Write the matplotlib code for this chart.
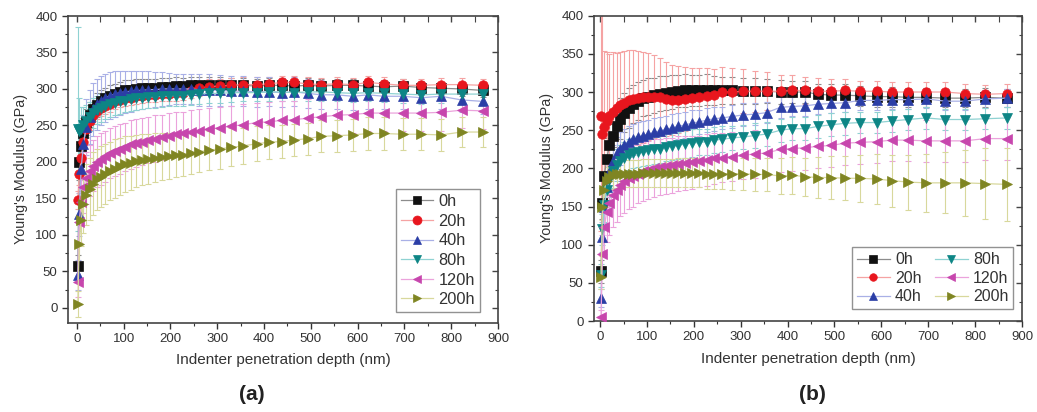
import matplotlib
matplotlib.use("Agg")
import matplotlib.pyplot as plt
from matplotlib.ticker import MultipleLocator

plt.rcParams['font.family'] = ['Liberation Sans', 'DejaVu Sans']

# ---------------- data ----------------
depth_nm = [2, 5, 9, 14, 20, 27, 35, 43, 52, 61, 71, 81, 92, 103, 115, 127, 140, 153,
            167, 181, 196, 211, 227, 243, 260, 282, 305, 330, 355, 385, 410, 438, 465,
            493, 522, 555, 590, 622, 656, 696, 736, 778, 822, 867]

series_labels = ["0h", "20h", "40h", "80h", "120h", "200h"]

# Panel (a)
a_0h = [57, 200, 222, 240, 255, 265, 272, 278, 283, 287, 290, 293, 296, 298, 299, 300, 301, 302,
        302, 303, 303, 304, 304, 305, 305, 305, 306, 305, 305, 304, 305, 305, 304,
        305, 304, 305, 305, 304, 303, 304, 302, 301, 300, 298]
a_0h_err = [15, 25, 22, 20, 18, 17, 16, 16, 15, 15, 15, 14, 14, 14, 13, 13, 13, 12,
            12, 12, 12, 12, 11, 11, 11, 11, 10, 10, 10, 10, 10, 10, 10,
            10, 10, 9, 9, 9, 9, 9, 9, 9, 9, 9]
a_20h = [148, 183, 205, 228, 245, 256, 264, 270, 274, 277, 280, 283, 285, 287, 288, 290, 291, 292,
         292, 293, 293, 294, 295, 297, 301, 303, 304, 305, 306, 306, 307, 309, 309,
         307, 306, 307, 306, 309, 307, 305, 305, 306, 306, 305]
a_20h_err = [12, 15, 14, 13, 12, 12, 12, 11, 11, 11, 11, 11, 10, 10, 10, 10, 10, 10,
             10, 10, 10, 10, 10, 10, 10, 10, 10, 10, 10, 10, 9, 9, 9,
             9, 9, 9, 9, 9, 9, 9, 9, 9, 9, 9]
a_40h = [45, 128, 190, 225, 248, 262, 272, 279, 284, 288, 291, 293, 295, 296, 297, 298, 298, 299,
         299, 300, 300, 300, 300, 300, 299, 298, 298, 297, 297, 296, 296, 295, 296,
         294, 292, 292, 290, 292, 290, 290, 288, 290, 285, 283]
a_40h_err = [20, 30, 40, 40, 38, 37, 36, 35, 34, 33, 32, 31, 30, 29, 28, 27, 26, 25,
             24, 23, 22, 21, 20, 20, 22, 22, 21, 21, 21, 21, 20, 20, 20,
             20, 20, 19, 19, 19, 18, 18, 18, 17, 17, 17]
a_80h = [245, 243, 245, 250, 256, 262, 267, 271, 274, 277, 279, 281, 283, 284, 286, 287, 288, 289,
         289, 290, 290, 291, 291, 292, 293, 294, 294, 295, 295, 295, 296, 296, 295,
         296, 296, 295, 294, 295, 294, 293, 292, 293, 293, 293]
a_80h_err = [140, 45, 30, 25, 22, 20, 20, 19, 19, 18, 18, 17, 17, 16, 16, 16, 15, 15,
             15, 15, 14, 14, 14, 14, 13, 13, 13, 13, 12, 12, 12, 12, 12,
             12, 12, 12, 12, 12, 12, 12, 12, 12, 12, 12]
a_120h = [35, 118, 145, 165, 178, 188, 195, 200, 204, 208, 212, 215, 218, 221, 224, 226, 228, 230,
          232, 234, 236, 238, 239, 241, 243, 245, 247, 249, 251, 254, 255, 257, 258,
          260, 262, 264, 265, 267, 267, 267, 267, 268, 271, 270]
a_120h_err = [20, 28, 32, 35, 35, 35, 35, 35, 35, 35, 34, 34, 34, 33, 33, 33, 32, 32,
              32, 31, 31, 30, 30, 30, 29, 29, 28, 28, 28, 27, 27, 27, 26,
              26, 26, 26, 25, 25, 25, 25, 25, 25, 25, 25]
a_200h = [5, 88, 120, 142, 155, 163, 170, 176, 180, 184, 188, 191, 194, 197, 199, 201, 203, 204,
          206, 207, 208, 209, 210, 212, 214, 216, 218, 220, 222, 225, 227, 228, 230,
          232, 235, 236, 237, 239, 239, 238, 238, 237, 241, 241]
a_200h_err = [18, 25, 35, 40, 42, 43, 43, 42, 42, 41, 40, 40, 39, 38, 37, 36, 35, 34,
              33, 32, 31, 30, 29, 28, 28, 27, 27, 26, 25, 24, 23, 23, 22,
              22, 22, 22, 22, 22, 22, 22, 22, 22, 20, 20]

# Panel (b)
b_0h = [65, 154, 190, 212, 230, 243, 255, 265, 273, 279, 284, 288, 292, 294, 296, 298, 299, 300,
        301, 302, 302, 302, 303, 302, 302, 302, 301, 301, 301, 300, 300, 300, 297,
        296, 296, 295, 294, 294, 293, 293, 292, 292, 293, 292]
b_0h_err = [15, 20, 25, 28, 28, 28, 27, 27, 26, 26, 25, 25, 24, 24, 23, 23, 22, 22,
            21, 21, 20, 20, 20, 19, 18, 18, 17, 17, 16, 16, 15, 15, 14,
            14, 14, 13, 13, 13, 12, 12, 12, 12, 12, 12]
b_20h = [268, 245, 254, 262, 268, 274, 279, 283, 286, 289, 291, 292, 293, 294, 294, 294, 291, 290,
         290, 291, 292, 293, 295, 296, 300, 300, 301, 301, 301, 301, 302, 302, 301,
         301, 302, 301, 301, 300, 300, 300, 300, 298, 297, 298]
b_20h_err = [150, 160, 100, 90, 82, 78, 72, 70, 68, 66, 64, 62, 60, 57, 54, 51, 48, 46,
             44, 42, 40, 38, 36, 34, 33, 31, 29, 27, 25, 21, 20, 18, 17,
             16, 15, 14, 14, 13, 13, 13, 13, 12, 12, 12]
b_40h = [30, 110, 150, 175, 195, 210, 220, 226, 231, 235, 238, 241, 243, 245, 247, 249, 251, 253,
         255, 257, 259, 261, 263, 265, 266, 268, 270, 271, 273, 280, 281, 282, 284,
         285, 286, 289, 289, 290, 290, 291, 288, 288, 291, 292]
b_40h_err = [12, 20, 22, 22, 22, 21, 21, 21, 20, 20, 20, 20, 19, 19, 19, 18, 18, 18,
             17, 17, 17, 16, 16, 16, 15, 15, 15, 14, 14, 14, 13, 13, 13,
             13, 12, 12, 12, 12, 12, 12, 12, 12, 12, 12]
b_80h = [60, 120, 152, 171, 185, 196, 204, 210, 214, 218, 220, 222, 223, 224, 225, 226, 228, 229,
         230, 232, 233, 234, 235, 237, 238, 240, 241, 243, 245, 250, 252, 252, 255,
         257, 259, 260, 260, 262, 264, 266, 264, 264, 265, 266]
b_80h_err = [15, 20, 22, 22, 22, 22, 21, 21, 21, 20, 20, 20, 20, 19, 19, 19, 19, 18,
             18, 18, 18, 17, 17, 17, 17, 16, 16, 16, 16, 15, 15, 15, 15,
             15, 15, 14, 14, 14, 14, 14, 14, 14, 14, 14]
b_120h = [5, 88, 123, 143, 155, 165, 172, 178, 183, 187, 190, 193, 196, 198, 200, 202, 203, 204,
          206, 207, 208, 209, 211, 213, 214, 215, 217, 219, 220, 225, 226, 227, 229,
          230, 233, 234, 235, 237, 237, 236, 236, 236, 239, 239]
b_120h_err = [10, 25, 35, 40, 42, 42, 42, 41, 41, 40, 40, 39, 39, 38, 38, 37, 37, 36,
              36, 35, 35, 34, 34, 33, 32, 32, 31, 31, 30, 30, 29, 29, 29,
              28, 28, 28, 28, 28, 28, 28, 28, 28, 28, 28]
b_200h = [57, 150, 172, 184, 189, 191, 192, 192, 193, 193, 193, 193, 194, 194, 194, 194, 194, 194,
          194, 194, 194, 194, 193, 193, 193, 193, 193, 192, 192, 190, 191, 189, 188,
          188, 187, 187, 186, 184, 182, 181, 181, 181, 180, 179]
b_200h_err = [15, 18, 18, 18, 18, 18, 18, 18, 18, 18, 18, 18, 18, 18, 18, 18, 18, 18,
              19, 19, 19, 19, 20, 20, 20, 21, 21, 22, 22, 23, 24, 25, 27,
              28, 29, 31, 33, 34, 36, 38, 40, 43, 47, 48]

# ---------------- styles ----------------
markers = ['s', 'o', '^', 'v', '<', '>']
colors = ['#111111', '#e8161e', '#2b3ea6', '#0d8585', '#c746ad', '#7f8522']
light = ['#8c8c8c', '#f5a3a3', '#a9b0e6', '#8fd2d2', '#eba3dc', '#d8d89c']
text_col = '#333333'

fig = plt.figure(figsize=(10.37, 4.12), dpi=100)
ax_a = fig.add_axes([68 / 1037, 1 - 322.5 / 412, 430 / 1037, 306.5 / 412])
ax_b = fig.add_axes([594 / 1037, 1 - 321 / 412, 428 / 1037, 305.3 / 412])

panels = [
    (ax_a, [a_0h, a_20h, a_40h, a_80h, a_120h, a_200h],
     [a_0h_err, a_20h_err, a_40h_err, a_80h_err, a_120h_err, a_200h_err],
     (-19, 900), (-20, 400)),
    (ax_b, [b_0h, b_20h, b_40h, b_80h, b_120h, b_200h],
     [b_0h_err, b_20h_err, b_40h_err, b_80h_err, b_120h_err, b_200h_err],
     (-13, 900), (0, 400)),
]

for ax, vals, errs, xl, yl in panels:
    for i in range(6):
        ax.errorbar(depth_nm, vals[i], yerr=errs[i], fmt='none', ecolor=light[i],
                    elinewidth=0.8, capsize=2.5, capthick=0.8, zorder=1 + i * 0.01)
    order = [0, 2, 3, 4, 5, 1]
    for i in order:
        ax.plot(depth_nm, vals[i], '-', color=light[i], lw=0.9, marker=markers[i],
                ms=6.8, mfc=colors[i], mec=colors[i], mew=0.5, zorder=3 + i * 0.01,
                label=series_labels[i])
    ax.set_xlim(*xl)
    ax.set_ylim(*yl)
    ax.xaxis.set_major_locator(MultipleLocator(100))
    ax.xaxis.set_minor_locator(MultipleLocator(50))
    ax.yaxis.set_major_locator(MultipleLocator(50))
    ax.yaxis.set_minor_locator(MultipleLocator(25))
    ax.tick_params(which='both', direction='out', colors=text_col, labelsize=9.5,
                   top=False, right=False)
    ax.tick_params(which='major', length=4, width=1)
    ax.tick_params(which='minor', length=2.5, width=0.8)
    for s in ax.spines.values():
        s.set_color('#444444')
        s.set_linewidth(1.2)
    sx = ax.secondary_xaxis('top')
    sx.xaxis.set_major_locator(MultipleLocator(100))
    sx.xaxis.set_minor_locator(MultipleLocator(50))
    sx.tick_params(which='both', direction='in', labeltop=False, colors='#444444')
    sx.tick_params(which='major', length=4, width=1)
    sx.tick_params(which='minor', length=4, width=0.8)
    sx.spines['top'].set_visible(False)
    sy = ax.secondary_yaxis('right')
    sy.yaxis.set_major_locator(MultipleLocator(50))
    sy.yaxis.set_minor_locator(MultipleLocator(25))
    sy.tick_params(which='both', direction='in', labelright=False, colors='#444444')
    sy.tick_params(which='major', length=4, width=1)
    sy.tick_params(which='minor', length=2.5, width=0.8)
    sy.spines['right'].set_visible(False)
    ax.set_xlabel('Indenter penetration depth (nm)', fontsize=11, color=text_col, labelpad=6)
    ax.set_ylabel("Young's Modulus (GPa)", fontsize=10.3, color=text_col, labelpad=5)

# legends
h, l = ax_a.get_legend_handles_labels()
idx = [l.index(s) for s in series_labels]
leg_a = ax_a.legend([h[k] for k in idx], series_labels, loc='lower right',
                    bbox_to_anchor=(0.958, 0.034), borderaxespad=0, fontsize=11.8,
                    frameon=True, fancybox=False, edgecolor='#777777', handlelength=2.0,
                    handletextpad=0.3, labelspacing=0.28, borderpad=0.3, markerscale=0.95)
leg_a.get_frame().set_linewidth(1.0)
for t in leg_a.get_texts():
    t.set_color(text_col)

h, l = ax_b.get_legend_handles_labels()
idx = [l.index(s) for s in series_labels]
leg_b = ax_b.legend([h[k] for k in idx], series_labels, loc='lower right', ncol=2,
                    bbox_to_anchor=(0.979, 0.039), borderaxespad=0, fontsize=11.5,
                    frameon=True, fancybox=False, edgecolor='#777777', handlelength=2.1,
                    handletextpad=0.3, labelspacing=0.22, borderpad=0.3,
                    columnspacing=0.8, markerscale=0.8)
leg_b.get_frame().set_linewidth(1.0)
for t in leg_b.get_texts():
    t.set_color(text_col)

fig.text(252 / 1037, 1 - 395 / 412, '(a)', fontsize=15, fontweight='bold',
         ha='center', va='center', color='#222222')
fig.text(812 / 1037, 1 - 395 / 412, '(b)', fontsize=15, fontweight='bold',
         ha='center', va='center', color='#222222')

fig.savefig('out.png', dpi=100)
